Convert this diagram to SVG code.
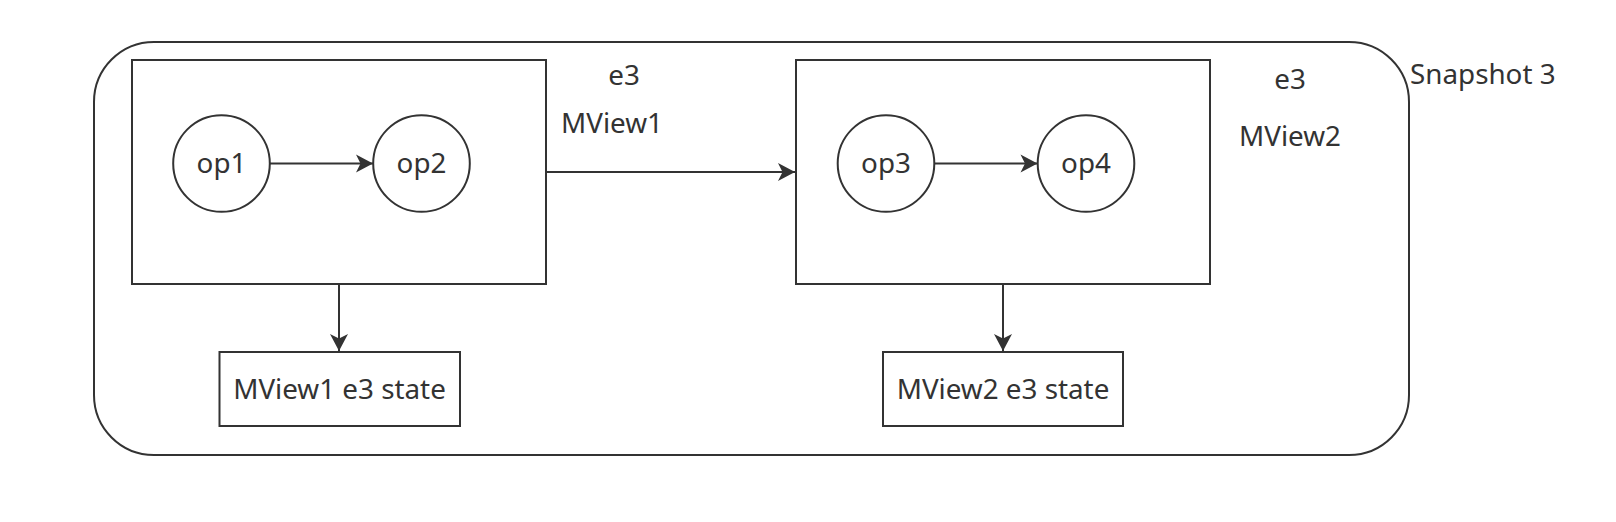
<svg xmlns="http://www.w3.org/2000/svg" width="1616" height="522" viewBox="0 0 1616 522">
<style>
.s{fill:none;stroke:#333;stroke-width:2}
.b{fill:#fff;stroke:#333;stroke-width:2}
.t{font-family:"Noto Sans","Open Sans",sans-serif;font-size:27.8px;fill:#333;text-anchor:middle}
.ts{font-family:"Noto Sans","Open Sans",sans-serif;font-size:27.8px;fill:#333}
</style>
<defs>
<marker id="ah" markerUnits="userSpaceOnUse" markerWidth="22" markerHeight="22" refX="18" refY="10" orient="auto">
<path d="M1,1 L18,10 L1,19 L5.5,10 Z" fill="#333"/>
</marker>
</defs>
<rect width="1616" height="522" fill="#fff"/>
<g id="snapshot3">
<rect class="s" x="94" y="42" width="1315" height="413" rx="60" ry="60"/>
<text class="ts" x="1410" y="84">Snapshot 3</text>
</g>
<g id="mview1">
<rect class="b" x="132" y="60" width="414" height="224"/>
</g>
<g id="mview2">
<rect class="b" x="796" y="60" width="414" height="224"/>
</g>
<g id="label-mview1">
<text class="t" x="624" y="85">e3</text>
<text class="t" x="612" y="133">MView1</text>
</g>
<g id="label-mview2">
<text class="t" x="1290" y="89">e3</text>
<text class="t" x="1290" y="146">MView2</text>
</g>
<g id="op1">
<circle class="b" cx="221.5" cy="163.5" r="48.3"/>
<text class="t" x="221.5" y="173">op1</text>
</g>
<g id="op2">
<circle class="b" cx="421.5" cy="163.5" r="48.3"/>
<text class="t" x="421.5" y="173">op2</text>
</g>
<g id="op3">
<circle class="b" cx="886" cy="163.5" r="48.3"/>
<text class="t" x="886" y="173">op3</text>
</g>
<g id="op4">
<circle class="b" cx="1086" cy="163.5" r="48.3"/>
<text class="t" x="1086" y="173">op4</text>
</g>
<g id="state1">
<rect class="b" x="219.5" y="352" width="240.5" height="74"/>
<text class="t" x="339.5" y="399">MView1 e3 state</text>
</g>
<g id="state2">
<rect class="b" x="883" y="352" width="240" height="74"/>
<text class="t" x="1003" y="399">MView2 e3 state</text>
</g>
<g id="connectors">
<line class="s" x1="270" y1="163.5" x2="373" y2="163.5" marker-end="url(#ah)"/>
<line class="s" x1="934.3" y1="163.5" x2="1037.5" y2="163.5" marker-end="url(#ah)"/>
<line class="s" x1="546" y1="172" x2="795" y2="172" marker-end="url(#ah)"/>
<line class="s" x1="339" y1="284" x2="339" y2="351" marker-end="url(#ah)"/>
<line class="s" x1="1003" y1="284" x2="1003" y2="351" marker-end="url(#ah)"/>
</g>
</svg>
